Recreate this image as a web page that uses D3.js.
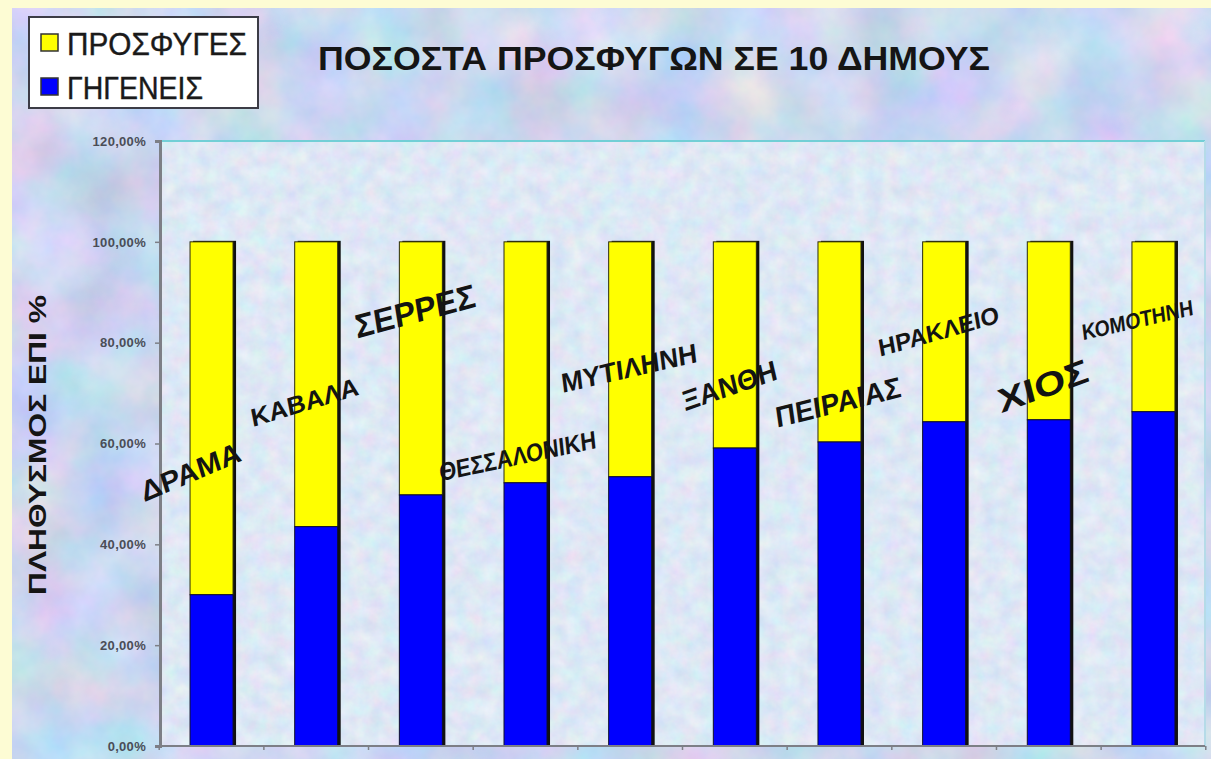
<!DOCTYPE html>
<html>
<head>
<meta charset="utf-8">
<script src="https://cdn.jsdelivr.net/npm/d3@7"></script>
<style>
    html, body { margin: 0; padding: 0; background: #fdfcd4; }
    svg { display: block; font-family: "Liberation Sans", Arial, sans-serif; }
</style>
</head>
<body>
<div id="graph"></div>
<script>
// Data
const categories = ["ΔΡΑΜΑ", "ΚΑΒΑΛΑ", "ΣΕΡΡΕΣ", "ΘΕΣΣΑΛΟΝΙΚΗ", "ΜΥΤΙΛΗΝΗ",
                    "ΞΑΝΘΗ", "ΠΕΙΡΑΙΑΣ", "ΗΡΑΚΛΕΙΟ", "ΧΙΟΣ", "ΚΟΜΟΤΗΝΗ"];
const natives  = [30.0, 43.5, 49.8, 52.2, 53.4, 59.1, 60.3, 64.3, 64.7, 66.3];
const refugees = [70.0, 56.5, 50.2, 47.8, 46.6, 40.9, 39.7, 35.7, 35.3, 33.7];
const yTicks = [0, 20, 40, 60, 80, 100, 120];
const seriesNames = ["ΠΡΟΣΦΥΓΕΣ", "ΓΗΓΕΝΕΙΣ"];
const chartTitle = "ΠΟΣΟΣΤΑ ΠΡΟΣΦΥΓΩΝ ΣΕ 10 ΔΗΜΟΥΣ";
const yTitle = "ΠΛΗΘΥΣΜΟΣ ΕΠΙ %";

// hand placed "wordart" labels: offset from bar centre, height (in % units), angle, size, length
const labelLayout = [
    {dx: -18, at: 52.5, angle: -23, size: 28, len: 107},
    {dx: -10, at: 66.5, angle: -17, size: 25, len: 112},
    {dx: -4,  at: 84.0, angle: -15, size: 33, len: 124},
    {dx: -7,  at: 55.8, angle: -12, size: 25, len: 160},
    {dx: 0,   at: 73.1, angle: -13, size: 27, len: 139},
    {dx: -3,  at: 69.6, angle: -19, size: 28, len: 99},
    {dx: 0,   at: 66.2, angle: -14, size: 29, len: 129},
    {dx: -4,  at: 80.6, angle: -16, size: 24, len: 125},
    {dx: -3,  at: 69.2, angle: -20, size: 33, len: 95},
    {dx: -15, at: 83.0, angle: -13, size: 22, len: 114}
];

const width = 1211;
const height = 759;
const margin = {top: 141, right: 6, bottom: 13, left: 160};
const yellow = "#ffff00";
const blue = "#0000ff";

const svg = d3.select("#graph").append("svg")
    .attr("width", width)
    .attr("height", height)
    .attr("viewBox", [0, 0, width, height]);

// marble-ish textures
const defs = svg.append("defs");
const outer = defs.append("filter").attr("id", "marble")
    .attr("color-interpolation-filters", "sRGB")
    .attr("x", 0).attr("y", 0).attr("width", "100%").attr("height", "100%");
outer.append("feTurbulence")
    .attr("type", "fractalNoise").attr("baseFrequency", 0.014)
    .attr("numOctaves", 5).attr("seed", 7);
outer.append("feColorMatrix").attr("type", "matrix")
    .attr("values", "0.35 0 0 0 0.62  0 0.2 0 0 0.74  0 0 0.14 0 0.87  0 0 0 0 1");

const inner = defs.append("filter").attr("id", "paper")
    .attr("color-interpolation-filters", "sRGB")
    .attr("x", 0).attr("y", 0).attr("width", "100%").attr("height", "100%");
inner.append("feTurbulence")
    .attr("type", "fractalNoise").attr("baseFrequency", 0.06)
    .attr("numOctaves", 4).attr("seed", 3);
inner.append("feColorMatrix").attr("type", "matrix")
    .attr("values", "0.16 0 0 0 0.79  0 0.12 0 0 0.85  0 0 0.06 0 0.93  0 0 0 0 1");

// Backgrounds
svg.append("rect").attr("width", width).attr("height", height).attr("fill", "#fdfcd4");
svg.append("rect")
    .attr("x", 12).attr("y", 8)
    .attr("width", width - 12).attr("height", height - 8)
    .attr("filter", "url(#marble)");

// Scales
const xScale = d3.scaleBand()
    .domain(categories)
    .range([margin.left, width - margin.right])
    .paddingInner(0.589)
    .paddingOuter(0.287);

const yScale = d3.scaleLinear()
    .domain([0, 120])
    .range([height - margin.bottom, margin.top]);

const plotX0 = xScale.range()[0];
const plotX1 = xScale.range()[1];

svg.append("rect")
    .attr("x", plotX0).attr("y", yScale(120))
    .attr("width", plotX1 - plotX0).attr("height", yScale(0) - yScale(120))
    .attr("filter", "url(#paper)");

// plot frame (top / right)
svg.append("line")
    .attr("x1", plotX0).attr("x2", plotX1)
    .attr("y1", yScale(120)).attr("y2", yScale(120))
    .attr("stroke", "#72cfd6").attr("stroke-width", 2);
svg.append("line")
    .attr("x1", plotX1).attr("x2", plotX1)
    .attr("y1", yScale(120)).attr("y2", yScale(0))
    .attr("stroke", "#b5dbe8").attr("stroke-width", 2);

// Bars
const bw = xScale.bandwidth();
const bars = svg.append("g")
    .selectAll("g")
    .data(categories)
    .join("g");

// shadow on the right
bars.append("rect")
    .attr("x", d => xScale(d) + 3)
    .attr("y", yScale(100) - 1)
    .attr("width", bw)
    .attr("height", yScale(0) - yScale(100) + 1)
    .attr("fill", "#111");

bars.append("rect")
    .attr("x", d => xScale(d))
    .attr("y", (d, i) => yScale(natives[i] + refugees[i]))
    .attr("width", bw)
    .attr("height", (d, i) => yScale(natives[i]) - yScale(natives[i] + refugees[i]))
    .attr("fill", yellow)
    .attr("stroke", "#2a2a10")
    .attr("stroke-width", 1);

bars.append("rect")
    .attr("x", d => xScale(d))
    .attr("y", (d, i) => yScale(natives[i]))
    .attr("width", bw)
    .attr("height", (d, i) => yScale(0) - yScale(natives[i]))
    .attr("fill", blue)
    .attr("stroke", "#10102a")
    .attr("stroke-width", 1);

// Y axis
const yAxis = d3.axisLeft(yScale)
    .tickValues(yTicks)
    .tickSize(5)
    .tickPadding(9)
    .tickFormat(d => d.toFixed(2).replace(".", ",") + "%");

svg.append("g")
    .attr("transform", `translate(${plotX0},0)`)
    .call(yAxis)
    .call(g => g.select(".domain").attr("stroke", "#7d7f86").attr("stroke-width", 3))
    .call(g => g.selectAll(".tick line").attr("stroke", "#7d7f86").attr("stroke-width", 1.5))
    .call(g => g.selectAll(".tick text")
        .attr("font-family", "\"Liberation Sans\", Arial, sans-serif")
        .attr("font-size", 13)
        .attr("font-weight", "bold")
        .attr("letter-spacing", "0.3px")
        .attr("fill", "#4a4d57"));

// X axis: baseline with ticks at the category boundaries
svg.append("line")
    .attr("x1", plotX0).attr("x2", plotX1)
    .attr("y1", yScale(0)).attr("y2", yScale(0))
    .attr("stroke", "#7d7f86").attr("stroke-width", 2);

const half = xScale.step() * xScale.paddingInner() / 2;
const boundaries = categories.map(c => xScale(c) - half)
    .concat([xScale(categories[categories.length - 1]) + bw + half]);
svg.append("g")
    .selectAll("line")
    .data(boundaries)
    .join("line")
        .attr("x1", d => d).attr("x2", d => d)
        .attr("y1", yScale(0)).attr("y2", yScale(0) + 4)
        .attr("stroke", "#7d7f86").attr("stroke-width", 1.5);

// Category labels (rotated, wordart style)
svg.append("g")
    .selectAll("text")
    .data(categories)
    .join("text")
        .attr("transform", (d, i) => {
            const l = labelLayout[i];
            const x = xScale(d) + bw / 2 + l.dx;
            const y = yScale(l.at);
            return `translate(${x},${y}) rotate(${l.angle}) skewX(-6)`;
        })
        .attr("text-anchor", "middle")
        .attr("font-size", (d, i) => labelLayout[i].size)
        .attr("font-weight", "bold")
        .attr("fill", "#141414")
        .attr("textLength", (d, i) => labelLayout[i].len)
        .attr("lengthAdjust", "spacingAndGlyphs")
        .text(d => d);

// Title
svg.append("text")
    .attr("x", 318)
    .attr("y", 70)
    .attr("font-size", 34)
    .attr("font-weight", "bold")
    .attr("fill", "#151515")
    .attr("textLength", 672)
    .attr("lengthAdjust", "spacingAndGlyphs")
    .text(chartTitle);

// Y axis title
svg.append("text")
    .attr("transform", "translate(46,445) rotate(-90)")
    .attr("text-anchor", "middle")
    .attr("font-size", 23)
    .attr("font-weight", "bold")
    .attr("fill", "#151515")
    .attr("textLength", 300)
    .attr("lengthAdjust", "spacingAndGlyphs")
    .text(yTitle);

// Legend
const legend = svg.append("g").attr("transform", "translate(29,17)");
legend.append("rect")
    .attr("width", 229).attr("height", 91)
    .attr("fill", "#ffffff")
    .attr("stroke", "#3c3c46").attr("stroke-width", 2);

const legendItems = legend.selectAll("g")
    .data(seriesNames)
    .join("g")
        .attr("transform", (d, i) => `translate(0,${17 + i * 44})`);

legendItems.append("rect")
    .attr("x", 12).attr("y", 0)
    .attr("width", 17).attr("height", 17)
    .attr("fill", (d, i) => i === 0 ? yellow : blue)
    .attr("stroke", "#333").attr("stroke-width", 1.5);

legendItems.append("text")
    .attr("x", 38)
    .attr("y", 21)
    .attr("font-size", 31)
    .attr("fill", "#1a1a1a")
    .attr("stroke", "#1a1a1a")
    .attr("stroke-width", 0.4)
    .attr("textLength", (d, i) => i === 0 ? 180 : 136)
    .attr("lengthAdjust", "spacingAndGlyphs")
    .text(d => d);
</script>
</body>
</html>
